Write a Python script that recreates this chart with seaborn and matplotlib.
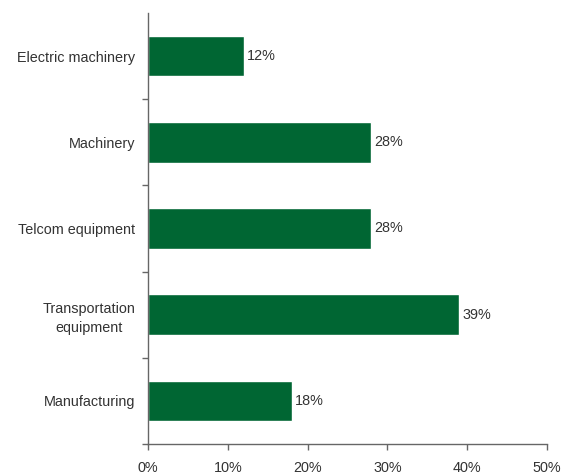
import matplotlib
matplotlib.use("Agg")
import matplotlib.pyplot as plt
import seaborn as sns
import pandas as pd

categories = ["Electric machinery", "Machinery", "Telcom equipment", "Transportation\nequipment", "Manufacturing"]
values = [12, 28, 28, 39, 18]
xticks = [0, 10, 20, 30, 40, 50]
xtick_labels = ["0%", "10%", "20%", "30%", "40%", "50%"]

sns.set_theme(style="white")
plt.rcParams['font.family'] = ['Liberation Sans', 'DejaVu Sans']

FS = 10.4
df = pd.DataFrame({"cat": categories, "val": values})
fig = plt.figure(figsize=(5.68, 4.75), dpi=100)
ax = fig.add_axes([148/568, 31/475, (547-148)/568, (444-13)/475])
sns.barplot(data=df, y="cat", x="val", color="#006633", saturation=1, width=0.47, ax=ax)

for i, v in enumerate(values):
    ax.text(v + 0.4, i, f"{v}%", va="center", ha="left", fontsize=FS, color="#333333")

ax.set_xlim(0, 50)
ax.set_ylim(4.5, -0.5)
ax.set_xticks(xticks)
ax.set_xticklabels(xtick_labels, fontsize=FS, color="#333333")
ax.set_yticks(range(len(categories)))
ax.set_yticklabels(categories, fontsize=FS, color="#333333", multialignment="center", linespacing=1.4)
ax.set_yticks([i + 0.5 for i in range(len(categories))], minor=True)
ax.tick_params(axis="y", which="major", length=0, pad=9)
ax.tick_params(axis="y", which="minor", length=4, width=1, color="#666666", direction="out", left=True)
ax.tick_params(axis="x", which="major", length=4, width=1, color="#666666", direction="out", bottom=True, pad=8)
ax.set_xlabel("")
ax.set_ylabel("")
for s in ["top", "right"]:
    ax.spines[s].set_visible(False)
for s in ["left", "bottom"]:
    ax.spines[s].set_color("#666666")
    ax.spines[s].set_linewidth(1)

fig.savefig("out.png", dpi=100)
